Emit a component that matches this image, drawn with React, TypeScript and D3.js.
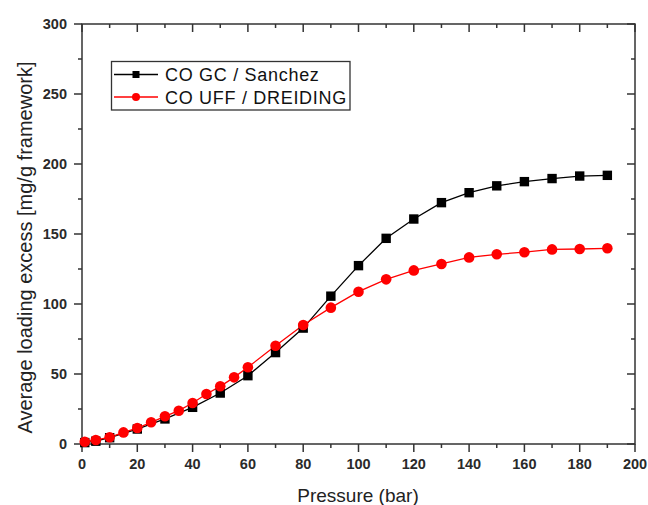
import React from "react";
import * as d3 from "d3";

const blackX = [1, 5, 10, 20, 30, 40, 50, 60, 70, 80, 90, 100, 110, 120, 130, 140, 150, 160, 170, 180, 190];
const blackY = [1, 2, 4.5, 10.7, 17.9, 26.2, 36.4, 48.8, 65.3, 82.8, 105.6, 127.4, 146.9, 160.7, 172.4, 179.5, 184.4, 187.4, 189.6, 191.4, 191.9];
const redX = [1, 5, 10, 15, 20, 25, 30, 35, 40, 45, 50, 55, 60, 70, 80, 90, 100, 110, 120, 130, 140, 150, 160, 170, 180, 190];
const redY = [1.6, 2.9, 4.8, 8.3, 11.4, 15.5, 19.8, 23.8, 29.3, 35.7, 41.2, 47.6, 54.8, 70.2, 85, 97.4, 108.8, 117.6, 124, 128.6, 133.3, 135.5, 137, 139, 139.3, 139.8];
const xTicks = [0, 20, 40, 60, 80, 100, 120, 140, 160, 180, 200];
const yTicks = [0, 50, 100, 150, 200, 250, 300];
const seriesNames = ["CO GC / Sanchez", "CO UFF / DREIDING"];

const W = 648, H = 505;
const L = 82, R = 635, T = 24, B = 444;
const FONT = "'Liberation Sans', Arial, sans-serif";

export default function App() {
  const x = d3.scaleLinear().domain([0, 200]).range([L, R]);
  const y = d3.scaleLinear().domain([0, 300]).range([B, T]);
  const line = d3.line<[number, number]>().x(d => x(d[0])).y(d => y(d[1]));
  const black: [number, number][] = blackX.map((v, i) => [v, blackY[i]]);
  const red: [number, number][] = redX.map((v, i) => [v, redY[i]]);
  const xMinor = d3.range(10, 200, 20);
  const yMinor = d3.range(25, 300, 50);
  const axisColor = "#333";
  const tickLabelColor = "#2a2a2a";
  return (
    <svg width={W} height={H} style={{ position: "absolute", left: 0, top: 0, background: "#fff" }}>
      <rect x={0} y={0} width={W} height={H} fill="#fff" />
      <rect x={L} y={T} width={R - L} height={B - T} fill="none" stroke={axisColor} strokeWidth={1.5} />
      {xTicks.map(t => (
        <g key={"xt" + t}>
          <line x1={x(t)} x2={x(t)} y1={B} y2={B + 8} stroke={axisColor} strokeWidth={1.5} />
          <line x1={x(t)} x2={x(t)} y1={T} y2={T + 8} stroke={axisColor} strokeWidth={1.5} />
          <text x={x(t)} y={469} textAnchor="middle" fontFamily={FONT} fontSize={14.5} fontWeight="bold" fill={tickLabelColor}>{t}</text>
        </g>
      ))}
      {xMinor.map(t => (
        <g key={"xm" + t}>
          <line x1={x(t)} x2={x(t)} y1={B} y2={B + 4} stroke={axisColor} strokeWidth={1.5} />
          <line x1={x(t)} x2={x(t)} y1={T} y2={T + 4} stroke={axisColor} strokeWidth={1.5} />
        </g>
      ))}
      {yTicks.map(t => (
        <g key={"yt" + t}>
          <line x1={L - 8} x2={L} y1={y(t)} y2={y(t)} stroke={axisColor} strokeWidth={1.5} />
          <line x1={R - 8} x2={R} y1={y(t)} y2={y(t)} stroke={axisColor} strokeWidth={1.5} />
          <text x={67} y={y(t) + 5} textAnchor="end" fontFamily={FONT} fontSize={14.5} fontWeight="bold" fill={tickLabelColor}>{t}</text>
        </g>
      ))}
      {yMinor.map(t => (
        <g key={"ym" + t}>
          <line x1={L - 4} x2={L} y1={y(t)} y2={y(t)} stroke={axisColor} strokeWidth={1.5} />
          <line x1={R - 4} x2={R} y1={y(t)} y2={y(t)} stroke={axisColor} strokeWidth={1.5} />
        </g>
      ))}
      <text x={358} y={502} textAnchor="middle" fontFamily={FONT} fontSize={19} fill="#222">Pressure (bar)</text>
      <text transform={`translate(32,${247.5}) rotate(-90)`} textAnchor="middle" fontFamily={FONT} fontSize={20} fill="#222">Average loading excess [mg/g framework]</text>
      <path d={line(black) || ""} fill="none" stroke="#000" strokeWidth={1.3} />
      <path d={line(red) || ""} fill="none" stroke="#ff0000" strokeWidth={1.3} />
      {black.map((d, i) => (
        <rect key={"b" + i} x={x(d[0]) - 4.7} y={y(d[1]) - 4.7} width={9.4} height={9.4} fill="#000" />
      ))}
      {red.map((d, i) => (
        <circle key={"r" + i} cx={x(d[0])} cy={y(d[1])} r={5.3} fill="#ff0000" />
      ))}
      <rect x={111.5} y={61.5} width={238.5} height={48.5} fill="#fff" stroke={axisColor} strokeWidth={1.3} />
      <line x1={114} x2={158} y1={74.5} y2={74.5} stroke="#000" strokeWidth={1.3} />
      <rect x={136 - 3.5} y={74.5 - 3.5} width={7} height={7} fill="#000" />
      <text x={165} y={81} fontFamily={FONT} fontSize={18} letterSpacing={0.7} fill="#111">{seriesNames[0]}</text>
      <line x1={114} x2={158} y1={97} y2={97} stroke="#ff0000" strokeWidth={1.3} />
      <circle cx={136} cy={97} r={4} fill="#ff0000" />
      <text x={165} y={103.5} fontFamily={FONT} fontSize={18} letterSpacing={0.7} fill="#111">{seriesNames[1]}</text>
    </svg>
  );
}
